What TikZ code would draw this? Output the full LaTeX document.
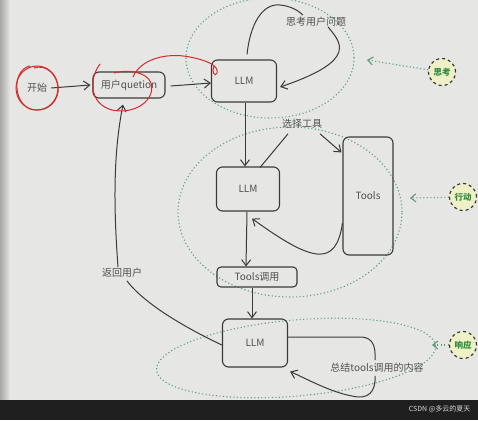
\documentclass[tikz,border=0pt]{standalone}
\usepackage{fontspec}
\setmainfont{Noto Sans CJK SC}
\usetikzlibrary{arrows.meta}
\definecolor{bg}{HTML}{E6E6E4}
\definecolor{ink}{HTML}{3A3A3A}
\definecolor{txt}{HTML}{505050}
\definecolor{dotg}{HTML}{5E9A78}
\definecolor{redm}{HTML}{D42A2A}
\definecolor{badgef}{HTML}{EEF0C6}
\definecolor{badget}{HTML}{2E8B3E}
\begin{document}
\begin{tikzpicture}[x=1pt,y=-1pt,
  font=\fontsize{10}{11}\selectfont,
  box/.style={draw=ink, line width=1.1pt, rounded corners=6pt, text=txt, inner sep=0pt},
  lbl/.style={text=txt, inner sep=1pt},
  arr/.style={draw=ink, line width=1pt, -{Straight Barb[length=6pt,width=9pt]}},
  ln/.style={draw=ink, line width=1pt},
  zone/.style={draw=dotg, line width=1.1pt, dash pattern=on 1.1pt off 2.4pt},
  badge/.style={circle, draw=ink, dashed, line width=1.2pt, fill=badgef, minimum size=27pt, inner sep=0pt, text=badget, font=\fontsize{8.5}{9}\selectfont\bfseries},
  darr/.style={draw=dotg, line width=1.1pt, dash pattern=on 1.1pt off 2.4pt, -{Straight Barb[length=5pt,width=8pt]}},
  redl/.style={draw=redm, line width=1pt}
]
% background
\fill[bg] (0,0) rectangle (478,420);
\shade[left color=gray!70, right color=bg] (0,0) rectangle (10,400);
\fill[black!88] (0,400) rectangle (478,420);
\useasboundingbox (0,0) rectangle (478,420);

% zones
\draw[zone] (270,58) ellipse [x radius=84pt, y radius=60pt];
\draw[zone] (290,212) ellipse [x radius=112pt, y radius=85pt];
\draw[zone, rotate around={5:(296,358)}] (296,358) ellipse [x radius=140pt, y radius=38pt];

% nodes
\node[lbl] (start) at (37,88) {开始};
\node[box, minimum width=72pt, minimum height=26pt] (q) at (129,85) {用户quetion};
\node[box, minimum width=65pt, minimum height=42pt] (llm1) at (244,81) {LLM};
\node[lbl] (think) at (316,22) {思考用户问题};
\node[box, minimum width=63pt, minimum height=44pt] (llm2) at (248,189) {LLM};
\node[lbl] (choose) at (302,124) {选择工具};
\node[box, minimum width=50pt, minimum height=118pt] (tools) at (368,196) {Tools};
\node[box, minimum width=80pt, minimum height=20pt, rounded corners=4pt] (tc) at (257,277) {Tools调用};
\node[box, minimum width=65pt, minimum height=48pt] (llm3) at (255,343) {LLM};
\node[lbl] (back) at (122,273) {返回用户};
\node[lbl] (sum) at (377,368) {总结tools调用的内容};

% badges
\node[badge] (b1) at (442,72) {思考};
\node[badge] (b2) at (463,197) {行动};
\node[badge] (b3) at (463,345) {响应};
\coordinate (t1) at (367,60);
\coordinate (t2) at (410,198);
\coordinate (t3) at (432,345);
\draw[darr] (b1) -- (t1);
\draw[darr] (b2) -- (t2);
\draw[darr] (b3) -- (t3);

% connectors
\draw[arr] (start.east) ++(3,0) -- ([xshift=-2pt]q.west);
\draw[arr] ([xshift=5pt,yshift=-1pt]q.east) -- ([yshift=-2pt]llm1.west);
\draw[ln] ([xshift=3pt,yshift=5pt]llm1.north) .. controls (250,25) and (262,3) .. (280,5) .. controls (290,6) and (298,10) .. ([xshift=18pt,yshift=1pt]think.north west);
\draw[arr] ([xshift=12pt,yshift=1pt]think.south) .. controls (340,42) and (360,60) .. ([xshift=3pt,yshift=-6pt]llm1.east);
\draw[arr] ([xshift=1pt]llm1.south) -- ([xshift=-3pt]llm2.north);
\draw[ln] ([xshift=-14pt,yshift=-4pt]choose.south) -- ([xshift=-20pt,yshift=-1pt]llm2.north east);
\draw[arr] ([xshift=18pt,yshift=-4pt]choose.south) -- ([xshift=-1pt,yshift=-16pt]tools.north west);
\draw[arr] ([yshift=-27pt]tools.west) .. controls (336,268) and (312,262) .. ([xshift=4pt,yshift=-7pt]llm2.south);
\draw[arr] ([xshift=-1pt]llm2.south) -- ([xshift=-11pt]tc.north);
\draw[arr] ([xshift=-5pt]tc.south) -- ([xshift=-3pt]llm3.north);
\draw[ln] ([yshift=-2pt]llm3.west) .. controls (190,330) and (145,305) .. ([xshift=5pt,yshift=-2pt]back.south);
\draw[arr] ([xshift=-4pt]back.north) .. controls (113,200) and (114,150) .. ([xshift=-6pt,yshift=-6pt]q.south);
\draw[ln] ([yshift=6pt]llm3.east) -- (362,337) .. controls (372,338) and (376,345) .. ([xshift=-2pt,yshift=2pt]sum.north);
\draw[arr] ([xshift=-2pt,yshift=-2pt]sum.south) .. controls (376,392) and (368,400) .. (352,396) .. controls (330,392) and (305,378) .. ([xshift=2pt,yshift=-4pt]llm3.south east);

% red hand annotations
\draw[redl] (37,88) ellipse [x radius=21pt, y radius=22pt];
\draw[redl] (30,66) .. controls (12,70) and (13,102) .. (30,109) .. controls (48,114) and (60,100) .. (58,86) .. controls (56,74) and (46,64) .. (34,68);
\draw[redl] (100,64) .. controls (88,80) and (90,104) .. (112,110) .. controls (135,115) and (156,100) .. (151,83) .. controls (147,72) and (128,69) .. (114,73);
\draw[redl] (133,77) .. controls (140,60) and (165,52) .. (190,57) .. controls (205,60) and (219,65) .. (217,73) .. controls (215,78) and (211,71) .. (214,66);

% watermark
\node[text=white!85!black, font=\fontsize{7}{8}\selectfont, anchor=east] (wm) at (474,409) {CSDN @多云的夏天};
\end{tikzpicture}
\end{document}
